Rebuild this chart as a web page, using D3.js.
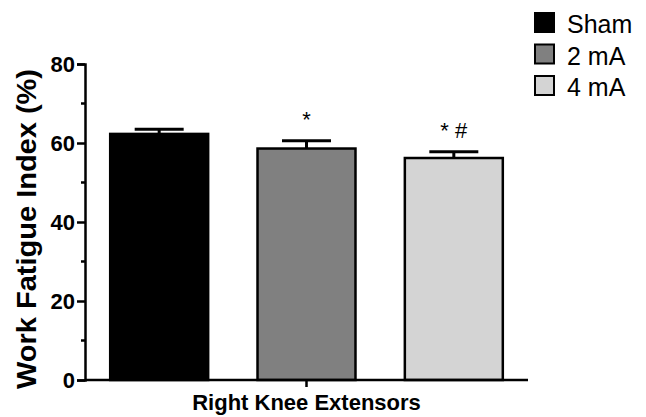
<!DOCTYPE html>
<html>
<head>
<meta charset="utf-8">
<script src="https://cdn.jsdelivr.net/npm/d3@7"></script>
<style>
  body { margin: 0; background: #fff; }
  text { font-family: "Liberation Sans", Arial, sans-serif; }
</style>
</head>
<body>
<svg id="chart"></svg>
<script>
let w = 646
let h = 417

// data
let groups = ["Sham", "2 mA", "4 mA"]
let means = [62.3, 58.6, 56.2]
let sems = [1.2, 2.0, 1.6]
let marks = ["", "*", "* #"]
let fills = ["#000000", "#808080", "#d4d4d4"]
let majorTicks = [0, 20, 40, 60, 80]
let minorTicks = [10, 30, 50, 70]

let svg = d3.select("#chart")
  .attr("width", w)
  .attr("height", h)

let y = d3.scaleLinear().domain([0, 80]).range([380, 64])
let x = d3.scaleBand().domain(groups).range([85, 528])
  .paddingInner(0.335).paddingOuter(0.171)

// bars
svg.selectAll("rect.bar")
  .data(groups)
  .join("rect")
  .attr("class", "bar")
  .attr("x", d => x(d))
  .attr("y", (d, i) => y(means[i]))
  .attr("width", x.bandwidth())
  .attr("height", (d, i) => y(0) - y(means[i]))
  .attr("fill", (d, i) => fills[i])
  .attr("stroke", "#000")
  .attr("stroke-width", 2.5)

// error bars (upper only)
let err = svg.append("g")
groups.forEach((g, i) => {
  let cx = x(g) + x.bandwidth() / 2
  let top = y(means[i] + sems[i])
  err.append("line")
    .attr("x1", cx).attr("x2", cx)
    .attr("y1", y(means[i])).attr("y2", top)
    .attr("stroke", "#000").attr("stroke-width", 3)
  err.append("line")
    .attr("x1", cx - x.bandwidth() / 4).attr("x2", cx + x.bandwidth() / 4)
    .attr("y1", top).attr("y2", top)
    .attr("stroke", "#000").attr("stroke-width", 3)
  if (marks[i]) {
    err.append("text")
      .attr("x", cx)
      .attr("y", top - 14)
      .attr("text-anchor", "middle")
      .attr("font-size", 22)
      .text(marks[i])
  }
})

// y axis
let yAxis = svg.append("g")
  .attr("transform", "translate(85,0)")
  .call(d3.axisLeft(y).tickValues(majorTicks).tickSize(8).tickPadding(2))
yAxis.select(".domain").attr("stroke-width", 2.5)
yAxis.selectAll(".tick line").attr("stroke-width", 2.5)
yAxis.selectAll(".tick text")
  .attr("font-size", 22)
  .attr("font-weight", "bold")
  .attr("font-family", "Liberation Sans, Arial, sans-serif")
  .attr("fill", "#000")

svg.append("g")
  .selectAll("line")
  .data(minorTicks)
  .join("line")
  .attr("x1", 81).attr("x2", 85)
  .attr("y1", d => y(d)).attr("y2", d => y(d))
  .attr("stroke", "#000").attr("stroke-width", 2.5)

// x axis
svg.append("line")
  .attr("x1", 85).attr("x2", 528)
  .attr("y1", 380).attr("y2", 380)
  .attr("stroke", "#000").attr("stroke-width", 2.5)
svg.append("line")
  .attr("x1", x(groups[1]) + x.bandwidth() / 2).attr("x2", x(groups[1]) + x.bandwidth() / 2)
  .attr("y1", 380).attr("y2", 387)
  .attr("stroke", "#000").attr("stroke-width", 2.5)

svg.append("text")
  .attr("x", x(groups[1]) + x.bandwidth() / 2)
  .attr("y", 410)
  .attr("text-anchor", "middle")
  .attr("font-size", 22)
  .attr("font-weight", "bold")
  .text("Right Knee Extensors")

svg.append("text")
  .attr("transform", "translate(36,229) rotate(-90)")
  .attr("text-anchor", "middle")
  .attr("font-size", 27)
  .attr("font-weight", "bold")
  .attr("textLength", 320)
  .attr("lengthAdjust", "spacingAndGlyphs")
  .text("Work Fatigue Index (%)")

// legend
let legend = svg.append("g")
groups.forEach((g, i) => {
  legend.append("rect")
    .attr("x", 535).attr("y", 13 + i * 31.5)
    .attr("width", 19).attr("height", 19)
    .attr("fill", fills[i])
    .attr("stroke", "#000").attr("stroke-width", 2)
  legend.append("text")
    .attr("x", 567).attr("y", 33 + i * 31.5)
    .attr("font-size", 25)
    .text(g)
})
</script>
</body>
</html>
